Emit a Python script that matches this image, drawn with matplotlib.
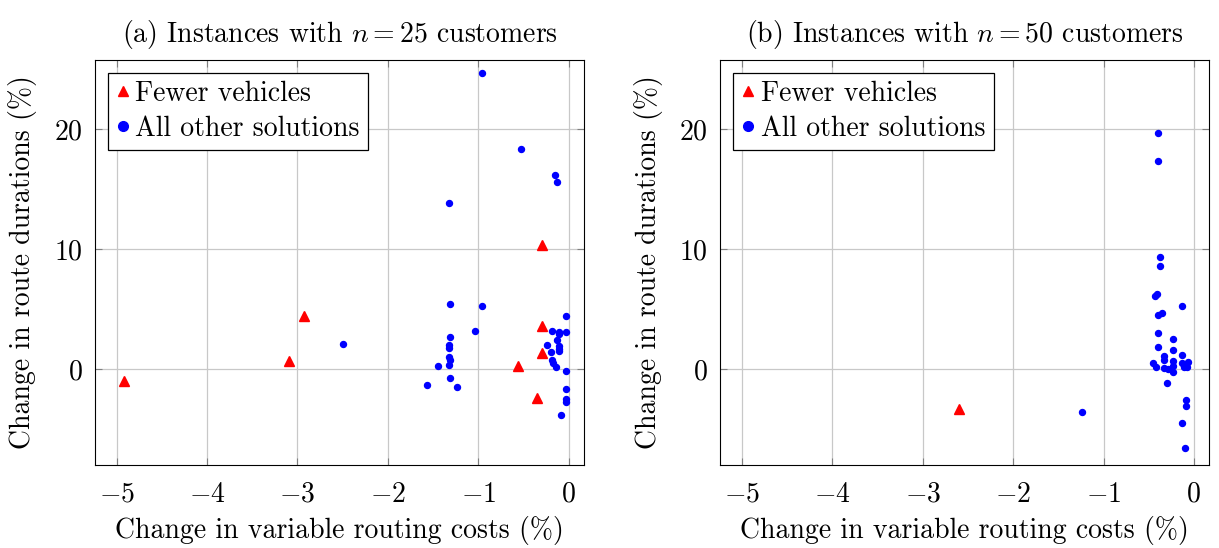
import matplotlib
matplotlib.use("Agg")
import matplotlib.pyplot as plt
from matplotlib.lines import Line2D

plt.rcParams['font.family'] = 'serif'
plt.rcParams['font.serif'] = ['cmr10', 'DejaVu Serif']
plt.rcParams['mathtext.fontset'] = 'cm'
plt.rcParams['axes.formatter.use_mathtext'] = True
plt.rcParams['font.size'] = 20

# n = 25 customers
fewer25_x = [-4.92, -3.09, -2.93, -0.29, -0.29, -0.29, -0.56, -0.35]
fewer25_y = [-1.0, 0.67, 4.4, 10.4, 3.6, 1.36, 0.3, -2.4]
other25_x = [-0.955, -0.53, -0.15, -0.13, -1.32, -1.31, -0.96, -1.04, -1.31, -1.32,
             -1.32, -1.32, -1.31, -1.44, -1.32, -1.31, -1.57, -1.23, -0.03, -0.185,
             -0.11, -0.03, -0.11, -0.24, -0.13, -0.11, -0.11, -0.11, -0.19, -0.185,
             -0.17, -0.14, -0.03, -0.03, -0.03, -0.03, -0.08, -2.5]
other25_y = [24.75, 18.4, 16.2, 15.6, 13.9, 5.45, 5.25, 3.2, 2.67, 2.0,
             1.8, 1.03, 0.78, 0.25, 0.33, -0.72, -1.33, -1.53, 4.42, 3.2,
             3.1, 3.1, 2.9, 2.05, 2.4, 1.9, 1.67, 1.5, 1.4, 0.75,
             0.55, 0.17, -0.17, -1.64, -2.5, -2.72, -3.8, 2.1]

# n = 50 customers
fewer50_x = [-2.6]
fewer50_y = [-3.33]
other50_x = [-1.24, -0.40, -0.40, -0.38, -0.37, -0.43, -0.41, -0.13, -0.40, -0.35,
             -0.40, -0.23, -0.40, -0.23, -0.13, -0.33, -0.33, -0.23, -0.45, -0.42,
             -0.13, -0.07, -0.11, -0.08, -0.23, -0.33, -0.29, -0.23, -0.30, -0.09,
             -0.09, -0.13, -0.10]
other50_y = [-3.6, 19.7, 17.4, 9.4, 8.6, 6.1, 6.3, 5.3, 4.5, 4.7,
             3.05, 2.5, 1.83, 1.6, 1.2, 1.1, 0.78, 0.72, 0.55, 0.2,
             0.5, 0.6, 0.2, 0.2, 0.22, 0.1, 0.03, -0.28, -1.17, -2.6,
             -3.08, -4.47, -6.6]

titles = [r'(a) Instances with $n = 25$ customers', r'(b) Instances with $n = 50$ customers']
data = [(fewer25_x, fewer25_y, other25_x, other25_y),
        (fewer50_x, fewer50_y, other50_x, other50_y)]

fig = plt.figure(figsize=(12.19, 5.48), dpi=100)
lefts = [0.078, 0.591]
for i in range(2):
    ax = fig.add_axes([lefts[i], 0.1515, 0.401, 0.739])
    fx, fy, ox, oy = data[i]
    ax.plot(fx, fy, linestyle='none', marker='^', color='red', markersize=7)
    ax.plot(ox, oy, linestyle='none', marker='o', color='blue', markersize=4.3)
    ax.set_xlim(-5.24, 0.17)
    ax.set_ylim(-8.0, 25.8)
    ax.set_xticks([-5, -4, -3, -2, -1, 0])
    ax.set_yticks([0, 10, 20])
    ax.grid(True, color='#c8c8c8', linewidth=0.9)
    ax.set_axisbelow(True)
    ax.tick_params(direction='in', top=True, right=True, color='#808080', length=5)
    ax.tick_params(axis='x', pad=12)
    ax.tick_params(axis='y', pad=9)
    ax.set_xlabel('Change in variable routing costs (%)', labelpad=6)
    ax.set_ylabel('Change in route durations (%)', labelpad=12)
    ax.set_title(titles[i], pad=13, fontsize=20)
    handles = [Line2D([], [], linestyle='none', marker='^', color='red', markersize=7),
               Line2D([], [], linestyle='none', marker='o', color='blue', markersize=7)]
    leg = ax.legend(handles, ['Fewer vehicles', 'All other solutions'], loc='upper left',
                    fancybox=False, edgecolor='black', framealpha=1, fontsize=20,
                    handlelength=0.5, handletextpad=0.2, borderpad=0.3,
                    labelspacing=0.3, borderaxespad=0.45)
    leg.get_frame().set_linewidth(0.9)

fig.savefig('out.png', dpi=100)
